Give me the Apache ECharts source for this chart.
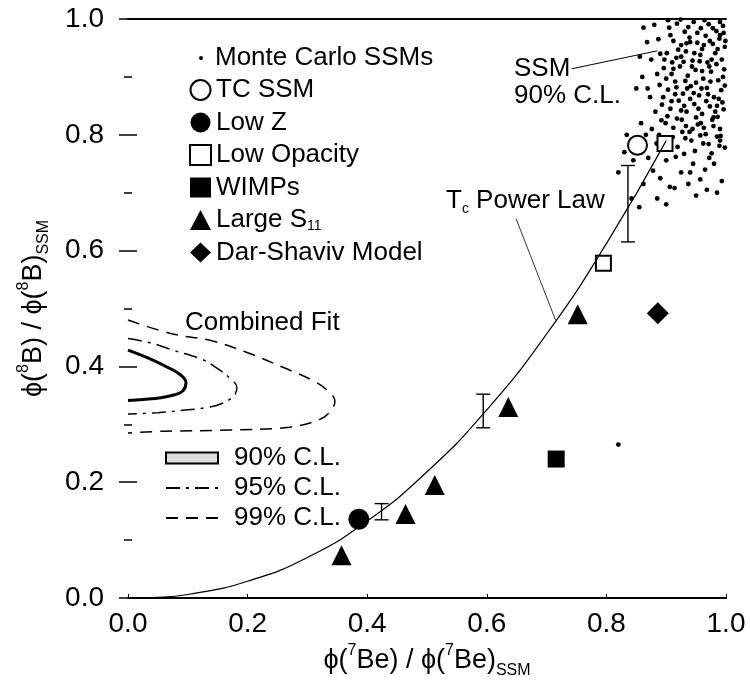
<!DOCTYPE html>
<html>
<head>
<meta charset="utf-8">
<script src="https://cdn.jsdelivr.net/npm/echarts@6.0.0/dist/echarts.min.js"></script>
<style>
    html, body { margin: 0; padding: 0; background: #fff; }
    #chart { width: 750px; height: 686px; }
</style>
</head>
<body>
<div id="chart"></div>
<script>
// model points: [phi(7Be) ratio, phi(8B) ratio]
const tcSsm = [[0.852, 0.782]];
const lowZ = [[0.386, 0.136]];
const lowOpacity = [[0.898, 0.785], [0.795, 0.578]];
const wimps = [[0.716, 0.240]];
const largeS11 = [[0.357, 0.074], [0.464, 0.145], [0.513, 0.195], [0.636, 0.330], [0.752, 0.490]];
const darShaviv = [[0.886, 0.492]];
// error bars: [x, low, high]
const errorBars = [[0.424, 0.135, 0.163], [0.594, 0.294, 0.352], [0.836, 0.615, 0.747]];

// Tc power law curve
const powerLawX = [0, 0.05, 0.1, 0.2, 0.3, 0.4, 0.5, 0.6, 0.7, 0.8, 0.9];
const powerLawY = [0, 0.001, 0.006, 0.029, 0.070, 0.133, 0.218, 0.325, 0.456, 0.612, 0.790];

// combined fit contours
const cl90 = [[0, 0.428], [0.037, 0.413], [0.065, 0.399], [0.087, 0.386], [0.097, 0.372], [0.092, 0.358],
    [0.078, 0.351], [0.055, 0.346], [0.025, 0.343], [0, 0.341]];
const cl95 = [[0, 0.448], [0.04, 0.44], [0.075, 0.428], [0.124, 0.412], [0.15, 0.396], [0.172, 0.378],
    [0.182, 0.364], [0.177, 0.349], [0.155, 0.335], [0.132, 0.329], [0.1, 0.325], [0.05, 0.32], [0, 0.318]];
const cl99 = [[0, 0.48], [0.075, 0.456], [0.137, 0.445], [0.199, 0.424], [0.26, 0.398], [0.31, 0.375],
    [0.335, 0.357], [0.346, 0.340], [0.338, 0.322], [0.32, 0.308], [0.27, 0.295], [0.17, 0.290],
    [0.06, 0.288], [0, 0.285]];

// Monte Carlo SSMs
const monteCarlo = [
    [0.905, 0.985], [0.918, 0.992], [0.931, 0.978], [0.946, 0.995], [0.958, 0.984], [0.971, 0.991], [0.984, 0.979], [0.995, 0.988],
    [0.912, 0.962], [0.925, 0.955], [0.939, 0.968], [0.952, 0.959], [0.966, 0.971], [0.978, 0.957], [0.989, 0.966], [0.998, 0.952],
    [0.901, 0.941], [0.917, 0.933], [0.933, 0.944], [0.944, 0.928], [0.957, 0.938], [0.969, 0.925], [0.982, 0.941], [0.993, 0.930],
    [0.896, 0.915], [0.909, 0.905], [0.923, 0.918], [0.936, 0.902], [0.949, 0.912], [0.962, 0.897], [0.975, 0.909], [0.987, 0.894], [0.997, 0.913],
    [0.889, 0.886], [0.903, 0.878], [0.915, 0.892], [0.928, 0.871], [0.941, 0.884], [0.955, 0.868], [0.968, 0.881], [0.980, 0.865], [0.992, 0.877],
    [0.893, 0.852], [0.907, 0.845], [0.921, 0.859], [0.934, 0.840], [0.947, 0.853], [0.960, 0.836], [0.973, 0.849], [0.986, 0.831], [0.996, 0.844],
    [0.899, 0.820], [0.912, 0.812], [0.926, 0.826], [0.939, 0.805], [0.953, 0.818], [0.966, 0.801], [0.979, 0.815], [0.991, 0.798],
    [0.905, 0.788], [0.919, 0.779], [0.932, 0.794], [0.948, 0.772], [0.962, 0.785], [0.976, 0.768], [0.989, 0.781],
    [0.940, 0.960], [0.925, 0.935], [0.963, 0.955], [0.950, 0.890], [0.976, 0.930], [0.915, 0.870], [0.985, 0.850], [0.958, 0.820],
    [0.930, 0.850], [0.970, 0.870], [0.944, 0.810], [0.990, 0.995], [0.910, 0.925], [0.960, 0.910], [0.935, 0.880],
    [0.903, 0.998], [0.924, 0.999], [0.937, 0.986], [0.952, 0.976], [0.964, 0.998], [0.978, 0.984], [0.990, 0.972], [0.999, 0.962],
    [0.907, 0.972], [0.920, 0.947], [0.934, 0.958], [0.947, 0.941], [0.960, 0.948], [0.973, 0.962], [0.986, 0.948], [0.996, 0.976],
    [0.897, 0.930], [0.912, 0.914], [0.929, 0.926], [0.943, 0.918], [0.956, 0.927], [0.972, 0.918], [0.984, 0.922], [0.995, 0.900],
    [0.900, 0.897], [0.917, 0.882], [0.932, 0.893], [0.946, 0.872], [0.959, 0.880], [0.974, 0.892], [0.988, 0.862], [0.998, 0.885],
    [0.895, 0.865], [0.909, 0.858], [0.925, 0.842], [0.940, 0.862], [0.954, 0.845], [0.967, 0.858], [0.982, 0.840], [0.994, 0.856],
    [0.902, 0.832], [0.918, 0.828], [0.933, 0.815], [0.950, 0.830], [0.963, 0.812], [0.977, 0.826], [0.990, 0.810],
    [0.911, 0.796], [0.927, 0.805], [0.942, 0.790], [0.957, 0.799], [0.971, 0.784], [0.985, 0.797], [0.998, 0.778],
    [0.885, 0.905], [0.890, 0.940], [0.887, 0.965], [0.892, 0.825], [0.884, 0.785], [0.876, 0.810], [0.869, 0.880], [0.856, 0.935], [0.862, 0.985],
    [0.916, 0.762], [0.945, 0.750], [0.972, 0.760], [0.925, 0.735], [0.890, 0.725], [0.968, 0.705], [0.985, 0.700], [0.900, 0.680], [0.940, 0.735],
    [0.860, 0.900], [0.873, 0.865], [0.868, 0.960], [0.880, 0.990], [0.875, 0.930], [0.882, 0.840], [0.834, 0.800], [0.845, 0.756],
    [0.870, 0.760], [0.878, 0.738], [0.900, 0.756], [0.930, 0.767], [0.957, 0.723], [0.937, 0.715], [0.906, 0.710], [0.914, 0.708],
    [0.862, 0.715], [0.980, 0.750], [0.990, 0.790], [0.979, 0.830], [0.820, 0.735], [0.842, 0.690], [0.855, 0.675], [0.885, 0.690],
    [0.950, 0.695], [0.965, 0.740], [0.888, 0.800], [0.858, 0.820], [0.993, 0.720], [0.850, 0.880], [0.866, 0.800], [0.830, 0.770],
    [0.820, 0.265]
];

// annotation leader lines
const ssmLeader = [[0.742, 0.914], [0.885, 0.945]];
const tcLeader = [[0.649, 0.655], [0.715, 0.480]];

const FONT = '"Liberation Sans", Arial, sans-serif';
const axisRich = {
    t: { fontSize: 27, fontFamily: FONT, color: '#000', lineHeight: 36 },
    p: { fontSize: 16, fontFamily: FONT, color: '#000', lineHeight: 19, verticalAlign: 'top' },
    b: { fontSize: 16, fontFamily: FONT, color: '#000', lineHeight: 19, verticalAlign: 'bottom' }
};
const textRich = {
    t: { fontSize: 26, fontFamily: FONT, color: '#000', lineHeight: 30 },
    b: { fontSize: 14, fontFamily: FONT, color: '#000', lineHeight: 15, verticalAlign: 'bottom' }
};
const noIcon = { color: 'rgba(0,0,0,0)', borderWidth: 0 };

let mychart = echarts.init(document.getElementById('chart'));

function tickAxis(pos, showLabel) {
    return {
        type: 'value', position: pos, min: 0, max: 1, interval: 0.2,
        axisLine: { show: false },
        axisTick: { show: true, inside: true, length: 9, lineStyle: { color: '#000', width: 1.5 } },
        minorTick: { show: true, splitNumber: 2, length: 4, lineStyle: { color: '#000', width: 1.5 } },
        axisLabel: {
            show: showLabel, fontSize: 28, fontFamily: FONT, color: '#000', margin: 24,
            formatter: v => v.toFixed(1)
        },
        splitLine: { show: false }
    };
}

const leftAxis = tickAxis('left', true);
leftAxis.name = '{t|ϕ(}{p|8}{t|B) / ϕ(}{p|8}{t|B)}{b|SSM}';
leftAxis.nameLocation = 'middle';
leftAxis.nameRotate = 90;
leftAxis.nameGap = 76;
leftAxis.nameTextStyle = { rich: axisRich };

let option = {
    animation: false,
    backgroundColor: '#fff',
    grid: { left: 128, right: 24, top: 19, bottom: 88 },
    xAxis: [
        {
            type: 'value', position: 'bottom', min: 0, max: 1, interval: 0.2,
            axisLine: { show: true, onZero: false, lineStyle: { color: '#000', width: 2 } },
            axisTick: { show: true, inside: true, length: 4, lineStyle: { color: '#000' } },
            axisLabel: { fontSize: 28, fontFamily: FONT, color: '#000', margin: 12, formatter: v => v.toFixed(1) },
            splitLine: { show: false },
            name: '{t|ϕ(}{p|7}{t|Be) / ϕ(}{p|7}{t|Be)}{b|SSM}',
            nameLocation: 'middle', nameGap: 44,
            nameTextStyle: { rich: axisRich }
        },
        {
            type: 'value', position: 'top', min: 0, max: 1,
            axisLine: { show: true, onZero: false, lineStyle: { color: '#000', width: 2 } },
            axisTick: { show: false }, axisLabel: { show: false }, splitLine: { show: false }
        }
    ],
    yAxis: [leftAxis, tickAxis('right', false)],
    legend: [
        {
            orient: 'vertical', left: 194, top: 40, itemWidth: 4, itemHeight: 4, selectedMode: false,
            data: [{ name: 'Monte Carlo SSMs', icon: 'circle' }],
            textStyle: { fontSize: 26, fontFamily: FONT, color: '#000', lineHeight: 26, padding: [0, 0, 0, 7] }
        },
        {
            orient: 'vertical', left: 184, top: 72, itemWidth: 21, itemHeight: 20, itemGap: 6.5, selectedMode: false,
            data: ['TC SSM', 'Low Z', 'Low Opacity', 'WIMPs', 'Large S11', 'Dar-Shaviv Model'],
            formatter: name => name === 'Large S11' ? '{t|Large S}{b|11}' : '{t|' + name + '}',
            textStyle: { fontSize: 26, fontFamily: FONT, color: '#000', rich: {
                t: { fontSize: 26, fontFamily: FONT, color: '#000', lineHeight: 26 },
                b: { fontSize: 14, fontFamily: FONT, color: '#000', lineHeight: 14, verticalAlign: 'bottom' }
            } }
        },
        {
            orient: 'vertical', left: 160, top: 440, itemWidth: 52, itemHeight: 11, itemGap: 4, selectedMode: false,
            data: [
                { name: '90% C.L.', icon: 'rect', itemStyle: { color: '#dcdcdc', borderColor: '#000', borderWidth: 2 } },
                { name: '95% C.L.', itemStyle: noIcon },
                { name: '99% C.L.', itemStyle: noIcon }
            ],
            textStyle: { fontSize: 26, fontFamily: FONT, color: '#000', lineHeight: 26, padding: [0, 0, 0, 11] }
        }
    ],
    graphic: [
        { type: 'text', left: 514, top: 56, style: { text: 'SSM', fontSize: 26, fontFamily: FONT, fill: '#000' } },
        { type: 'text', left: 514, top: 83, style: { text: '90% C.L.', fontSize: 26, fontFamily: FONT, fill: '#000' } },
        { type: 'text', left: 446, top: 188, style: { text: '{t|T}{b|c}{t| Power Law}', rich: textRich } },
        { type: 'text', left: 185, top: 310, style: { text: 'Combined Fit', fontSize: 26, fontFamily: FONT, fill: '#000' } }
    ],
    series: [
        {
            name: 'Monte Carlo SSMs', type: 'scatter', data: monteCarlo,
            symbol: 'circle', symbolSize: 4.8, itemStyle: { color: '#000', opacity: 1 }, silent: true
        },
        {
            name: 'Tc Power Law', type: 'line', smooth: true, showSymbol: false, symbol: 'none',
            data: powerLawX.map((x, i) => [x, powerLawY[i]]),
            lineStyle: { color: '#000', width: 1.2 }, silent: true
        },
        {
            name: 'ssmLeader', type: 'line', data: ssmLeader, symbol: 'none',
            lineStyle: { color: '#000', width: 1 }, silent: true
        },
        {
            name: 'tcLeader', type: 'line', data: tcLeader, symbol: 'none',
            lineStyle: { color: '#000', width: 0.8 }, silent: true
        },
        {
            name: '90% C.L.', type: 'line', data: cl90, smooth: 0.4, symbol: 'none',
            itemStyle: { color: '#000' }, lineStyle: { color: '#000', width: 3 }
        },
        {
            name: '95% C.L.', type: 'line', data: cl95, smooth: 0.4, symbol: 'none',
            itemStyle: { color: '#000' }, lineStyle: { color: '#000', width: 1.5, type: [14, 6, 3, 6] }
        },
        {
            name: '99% C.L.', type: 'line', data: cl99, smooth: 0.4, symbol: 'none',
            itemStyle: { color: '#000' }, lineStyle: { color: '#000', width: 1.5, type: [12, 8] }
        },
        {
            name: 'errorBars', type: 'custom', data: errorBars, encode: { x: 0, y: [1, 2] },
            renderItem: (params, api) => {
                const x = api.value(0);
                const p1 = api.coord([x, api.value(1)]);
                const p2 = api.coord([x, api.value(2)]);
                const w = 7;
                const st = { stroke: '#000', lineWidth: 1.4 };
                return {
                    type: 'group',
                    children: [
                        { type: 'line', shape: { x1: p1[0], y1: p1[1], x2: p2[0], y2: p2[1] }, style: st },
                        { type: 'line', shape: { x1: p1[0] - w, y1: p1[1], x2: p1[0] + w, y2: p1[1] }, style: st },
                        { type: 'line', shape: { x1: p2[0] - w, y1: p2[1], x2: p2[0] + w, y2: p2[1] }, style: st }
                    ]
                };
            },
            silent: true
        },
        {
            name: 'TC SSM', type: 'scatter', data: tcSsm, symbol: 'emptyCircle', symbolSize: 19,
            itemStyle: { color: '#000', borderWidth: 1.5, opacity: 1 }
        },
        {
            name: 'Low Z', type: 'scatter', data: lowZ, symbol: 'circle', symbolSize: 21,
            itemStyle: { color: '#000', opacity: 1 }
        },
        {
            name: 'Low Opacity', type: 'scatter', data: lowOpacity, symbol: 'emptyRect', symbolSize: 15,
            itemStyle: { color: '#000', borderWidth: 1.5, opacity: 1 }
        },
        {
            name: 'WIMPs', type: 'scatter', data: wimps, symbol: 'rect', symbolSize: 17,
            itemStyle: { color: '#000', opacity: 1 }
        },
        {
            name: 'Large S11', type: 'scatter', data: largeS11, symbol: 'triangle', symbolSize: 20,
            itemStyle: { color: '#000', opacity: 1 }
        },
        {
            name: 'Dar-Shaviv Model', type: 'scatter', data: darShaviv, symbol: 'diamond', symbolSize: 22,
            itemStyle: { color: '#000', opacity: 1 }
        }
    ]
};
mychart.setOption(option);
</script>
</body>
</html>
